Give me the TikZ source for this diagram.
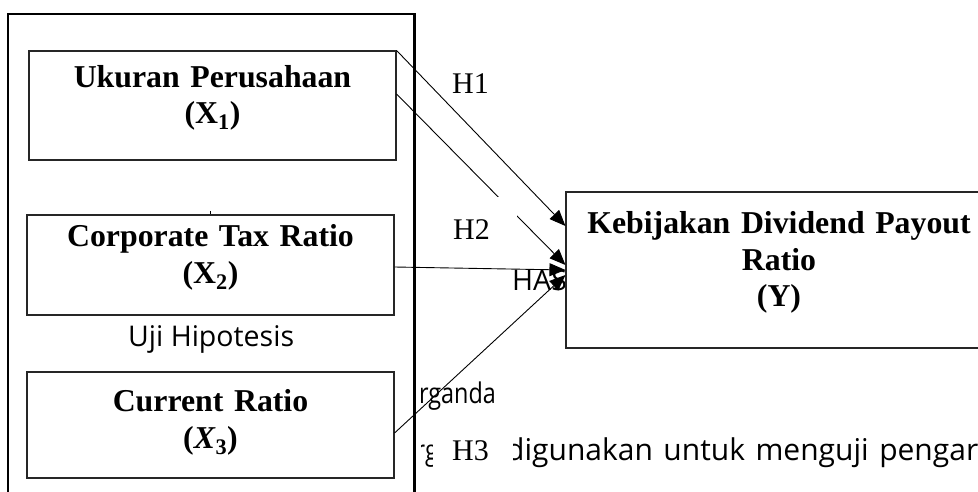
\documentclass[tikz,border=0pt]{standalone}
\usepackage{fontspec}
\setmainfont{Liberation Serif}
\newfontfamily\uisans{Open Sans}
\usetikzlibrary{arrows.meta}
\newcommand\tstrut[1]{\rule{0pt}{#1}}
\newcommand\bstrut[1]{\rule[-#1]{0pt}{#1}}
\tikzset{
  varbox/.style={draw=black!85, line width=1.1pt, fill=white, rectangle, inner sep=0pt,
    align=center, font=\bfseries\fontsize{31.8}{36.5}\selectfont},
  hlabel/.style={font=\fontsize{30}{36}\selectfont, inner sep=0pt},
  hbox/.style={hlabel, fill=white, text height=43pt, text depth=12pt, align=left},
  bodytext/.style={font=\uisans\fontsize{28.5}{34}\selectfont, inner sep=0pt},
  patharrow/.style={line width=0.9pt, -{Triangle[length=16pt,width=13pt]}},
  framebox/.style={line width=2.4pt, line join=miter},
}
\begin{document}
\begin{tikzpicture}[x=1pt,y=-1pt]
\useasboundingbox (0,0) rectangle (978,492);
\clip (0,0) rectangle (978,492);
% background text
\node[bodytext, anchor=base west] (uji) at (128,346) {Uji Hipotesis};
\node[bodytext, anchor=base west] (has) at (512,290) {HAS};
\begin{scope}
  \clip (421,370) rectangle (978,480);
  \node[bodytext, anchor=base east] (berganda) at (496,403) {\scalebox{0.82}[1]{erganda}};
  \node[bodytext, anchor=base east] (erg) at (438,460) {\scalebox{0.82}[1]{erg}};
\end{scope}
\node[bodytext, font=\uisans\fontsize{30}{34}\selectfont, anchor=base west] (digunakan) at (506,460)
  {\makebox[472pt][s]{digunakan untuk menguji pengar}};
% outer frame
\draw[framebox] (8,500) |- (414.5,14) -- (414.5,500);
\draw[line width=1pt] (210,211) -- (210,215);
% variable boxes
\node[varbox, minimum width=367pt, minimum height=109pt, text width=360pt] (x1) at (212.5,105.5)
  {\tstrut{24pt}Ukuran Perusahaan\\(X\textsubscript{1})\bstrut{24pt}};
\node[varbox, minimum width=367pt, minimum height=100pt, text width=360pt] (x2) at (210.5,265)
  {\tstrut{24pt}Corporate Tax Ratio\\(X\textsubscript{2})\bstrut{24pt}};
\node[varbox, minimum width=367pt, minimum height=106pt, text width=360pt] (x3) at (210.5,425)
  {\tstrut{29pt}Current Ratio\\(\textit{X}\textsubscript{3})\bstrut{19pt}};
\node[varbox, minimum width=426pt, minimum height=156pt, text width=410pt] (y) at (779,270)
  {\tstrut{24pt}Kebijakan Dividend Payout\\Ratio\\(Y)\bstrut{24pt}};
% arrows
\draw[patharrow] (x1.north east) -- ([yshift=44pt]y.west);
\draw[patharrow] ([yshift=11.5pt]x1.east) -- ([yshift=5pt]y.west);
\draw[patharrow] ([yshift=-2pt]x2.east) -- ([yshift=0pt]y.west);
\draw[patharrow] ([yshift=-8pt]x3.east) -- ([yshift=-5pt]y.west);
% hypothesis labels
\node[hlabel, anchor=base west] (h1) at (452,94) {H1};
\node[hbox, anchor=base west, text width=84pt] (h2) at (433,240) {\hspace*{20pt}H2};
\node[hbox, anchor=base west, text width=80pt] (h3) at (433,460) {\hspace*{19pt}H3};
\end{tikzpicture}
\end{document}
